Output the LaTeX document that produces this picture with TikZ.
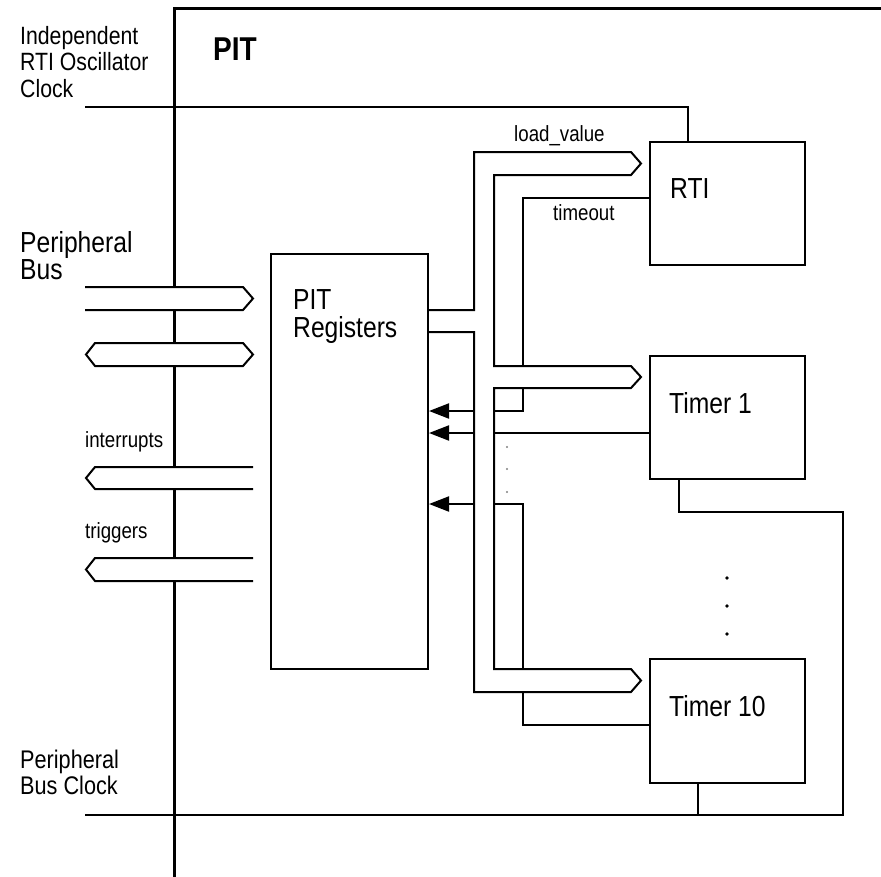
\documentclass[tikz,border=0pt]{standalone}
\usepackage{fontspec}
\setmainfont{Liberation Sans}[FakeStretch=0.85]
\usetikzlibrary{arrows.meta}

\tikzstyle{wire}=[-, line width=2pt]
\tikzstyle{bus}=[-, line width=2pt, fill=white, line join=miter]
\tikzstyle{myarrow}=[-{Triangle[length=20pt,width=15pt]}, line width=2pt]
\tikzstyle{block}=[rectangle, draw, line width=2pt, anchor=north west, inner sep=0pt]
\tikzstyle{blocktext}=[anchor=base west, inner sep=0pt, align=left, font=\fontsize{29}{28}\selectfont]
\tikzstyle{pintext}=[anchor=base west, inner sep=0pt, align=left, font=\fontsize{25}{26.5}\selectfont]
\tikzstyle{sigtext}=[anchor=base west, inner sep=0pt, font=\fontsize{22}{26}\selectfont]

\begin{document}
\begin{tikzpicture}[x=1pt,y=-1pt]
\useasboundingbox (0,0) rectangle (881,876);

% PIT frame
\draw[line width=3pt] (174,880) -- (174,8) -- (885,8);
\node[anchor=base west, inner sep=0pt, font=\fontsize{33}{33}\selectfont\bfseries] (pit) at (213,60) {PIT};

% blocks
\node[block, minimum width=157pt, minimum height=415pt] (regs) at (270,253) {};
\node[blocktext] (regslabel) at ([shift={(23,84)}]regs.north west) {PIT\\Registers};
\node[block, minimum width=155pt, minimum height=123pt] (rti) at (649,141) {};
\node[blocktext] (rtilabel) at ([shift={(21,57)}]rti.north west) {RTI};
\node[block, minimum width=155pt, minimum height=123pt] (timer1) at (649,355) {};
\node[blocktext] (timer1label) at ([shift={(20,58)}]timer1.north west) {Timer 1};
\node[block, minimum width=155pt, minimum height=124pt] (timer10) at (649,658) {};
\node[blocktext] (timer10label) at ([shift={(20,58)}]timer10.north west) {Timer 10};

% left side labels (base = last line)
\node[pintext] (osclabel) at (20,97) {Independent\\RTI Oscillator\\Clock};
\node[pintext, font=\fontsize{29}{27}\selectfont] (pbuslabel) at (20,279) {Peripheral\\Bus};
\node[sigtext] (intlabel) at (85,447) {interrupts};
\node[sigtext] (triglabel) at (85,538) {triggers};
\node[pintext, font=\fontsize{25.5}{26}\selectfont] (clklabel) at (20,794) {Peripheral\\Bus Clock};
\node[sigtext] (loadlabel) at (514,141) {load\_value};
\node[sigtext] (tolabel) at (553,220) {timeout};

% peripheral bus crossing the frame
\filldraw[bus] (85,287) -- (243,287) -- (253,298.5) -- (243,310) -- (85,310);
\filldraw[bus] (95,343) -- (243,343) -- (253,354.5) -- (243,366) -- (95,366) -- (86,354.5) -- cycle;
\filldraw[bus] (253,467) -- (95,467) -- (86,478) -- (95,489) -- (253,489);
\filldraw[bus] (253,558) -- (95,558) -- (86,569.5) -- (95,581) -- (253,581);

% internal bus from registers to RTI and timers
\draw[wire, line join=miter] (regs.east |- 0,310) -- (474,310) -- (474,152) -- (631,152) -- (641,163.5) -- (631,175)
    -- (494,175) -- (494,366) -- (631,366) -- (641,377) -- (631,388)
    -- (494,388) -- (494,669) -- (631,669) -- (641,680.5) -- (631,692)
    -- (474,692) -- (474,332) -- (regs.east |- 0,332);

% timeout / interrupt lines back to the registers
\draw[wire] (rti.west |- 0,198) -| (523,366);
\draw[wire] (523,388) |- (494,411);
\draw[myarrow] (474,411) -- (regs.east |- 0,411);
\draw[wire] (timer1.west |- 0,433) -- (494,433);
\draw[myarrow] (474,433) -- (regs.east |- 0,433);
\draw[wire] (timer10.west |- 0,725) -| (523,692);
\draw[wire] (523,669) |- (494,504);
\draw[myarrow] (474,504) -- (regs.east |- 0,504);
\foreach \y in {447,469,492} \fill[gray] (507,\y) circle (1.2);

% clocks
\coordinate (oscclk) at (85,107);
\draw[wire] (oscclk) -| (rti.north -| 688,0);
\coordinate (busclk) at (85,815);
\draw[wire] (busclk) -- (843,815) |- (679,512) -- (timer1.south -| 679,0);
\draw[wire] (timer10.south -| 698,0) -- (698,815);
\foreach \y in {578,606,634} \fill (727,\y) circle (1.8);
\end{tikzpicture}
\end{document}
